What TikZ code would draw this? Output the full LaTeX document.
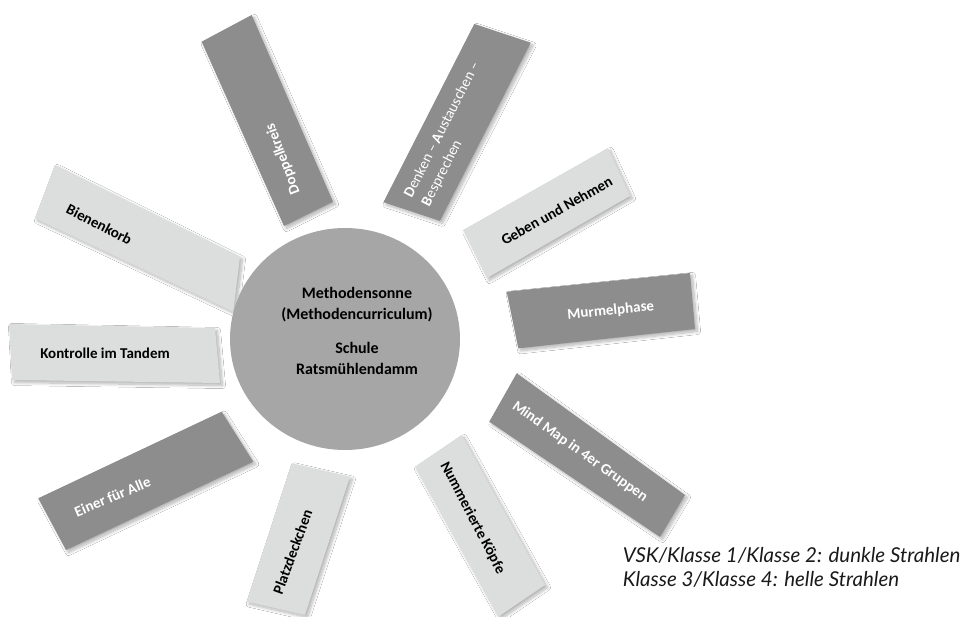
\documentclass[tikz,border=0pt]{standalone}
\usepackage{fontspec}
\setmainfont{Carlito}
\newfontfamily\legendfont{Lato}
\usetikzlibrary{shapes.geometric,shadows.blur}
\definecolor{darkray}{HTML}{8D8D8D}
\definecolor{lightray}{HTML}{DCDDDD}
\definecolor{sunfill}{HTML}{A6A6A6}
\definecolor{legendcol}{HTML}{1A1A1A}
\tikzset{
  softshadow/.style={blur shadow={shadow xshift=2.5pt, shadow yshift=-2.5pt, shadow blur radius=3pt, shadow blur steps=12, shadow opacity=30}},
  darkbeam/.style={fill=darkray, softshadow},
  lightbeam/.style={fill=lightray, softshadow},
  beamtext/.style={inner sep=0pt, font=\fontsize{15}{18}\selectfont\bfseries},
  darktext/.style={beamtext, text=white},
  lighttext/.style={beamtext, text=black},
}
\begin{document}
\begin{tikzpicture}[x=1pt,y=-1pt]
\useasboundingbox[fill=white] (0,0) rectangle (967,617);

% rays
\fill[darkbeam]  (201.7,41.7) -- (251.7,15) -- (333,201.7) -- (284,226) -- cycle;        % Doppelkreis
\fill[darkbeam]  (474.3,24) -- (530.7,42.7) -- (439.9,220.9) -- (383.5,202.2) -- cycle;  % Denken
\fill[lightbeam] (463.3,230) -- (608,148) -- (630,196) -- (487,278) -- cycle;            % Geben
\fill[darkbeam]  (506.7,291.7) -- (690,273) -- (695,329) -- (518.3,348.3) -- cycle;      % Murmelphase
\fill[darkbeam]  (516.7,373.3) -- (685,495) -- (660,537) -- (489.3,421.7) -- cycle;      % Mind Map
\fill[lightbeam] (415,466.7) -- (461.7,435) -- (545,585) -- (498.3,616.7) -- cycle;      % Nummerierte
\fill[lightbeam] (291.7,463.3) -- (350,476.7) -- (305,615) -- (246.7,601.6) -- cycle;    % Platzdeckchen
\fill[darkbeam]  (38.3,498.3) -- (221.7,411.7) -- (253.3,461.7) -- (66,550) -- cycle;    % Einer
\fill[lightbeam] (9,324) -- (215,328) -- (220,383) -- (12,380) -- cycle;                 % Kontrolle
\fill[lightbeam] (55,165) -- (240,256.7) -- (233.3,311.7) -- (35,218.3) -- cycle;        % Bienenkorb

% centre
\node[ellipse, fill=sunfill, minimum width=230pt, minimum height=222pt, inner sep=0pt] (sun) at (345,339) {};
\node[inner sep=0pt, align=center, font=\fontsize{16}{21.7}\selectfont\bfseries] (suntext) at (357,331)
  {Methodensonne\\(Methodencurriculum)\\[11.7pt]Schule\\Ratsmühlendamm};

% ray labels
\node[darktext, rotate=110.6] (t1) at (283,158.7) {Doppelkreis};
\node[beamtext, text=white, font=\fontsize{15}{19.6}\selectfont, align=left, anchor=west, rotate=63] (t2) at (417,201)
  {\textbf{D}enken – \textbf{A}ustauschen –\\\textbf{B}esprechen};
\node[lighttext, rotate=29.3] (t3) at (556.7,210.8) {Geben und Nehmen};
\node[darktext, rotate=5.6] (t4) at (610.8,310.8) {Murmelphase};
\node[darktext, rotate=-35.4] (t5) at (580,451.7) {Mind Map in 4er Gruppen};
\node[lighttext, rotate=-62.4] (t6) at (472.5,518) {Nummerierte Köpfe};
\node[lighttext, rotate=69.7] (t7) at (292.5,551.7) {Platzdeckchen};
\node[darktext, rotate=22.7] (t8) at (112.5,496.7) {Einer für Alle};
\node[lighttext] (t9) at (105,353) {Kontrolle im Tandem};
\node[lighttext, rotate=-27.2] (t10) at (99.2,224.2) {Bienenkorb};

% legend
\node[inner sep=0pt, anchor=west, align=left, text=legendcol, font=\legendfont\itshape\fontsize{20.5}{24.3}\selectfont] (legend) at (622.7,567.2)
  {VSK/Klasse 1/Klasse 2: dunkle Strahlen\\Klasse 3/Klasse 4: helle Strahlen};
\end{tikzpicture}
\end{document}
